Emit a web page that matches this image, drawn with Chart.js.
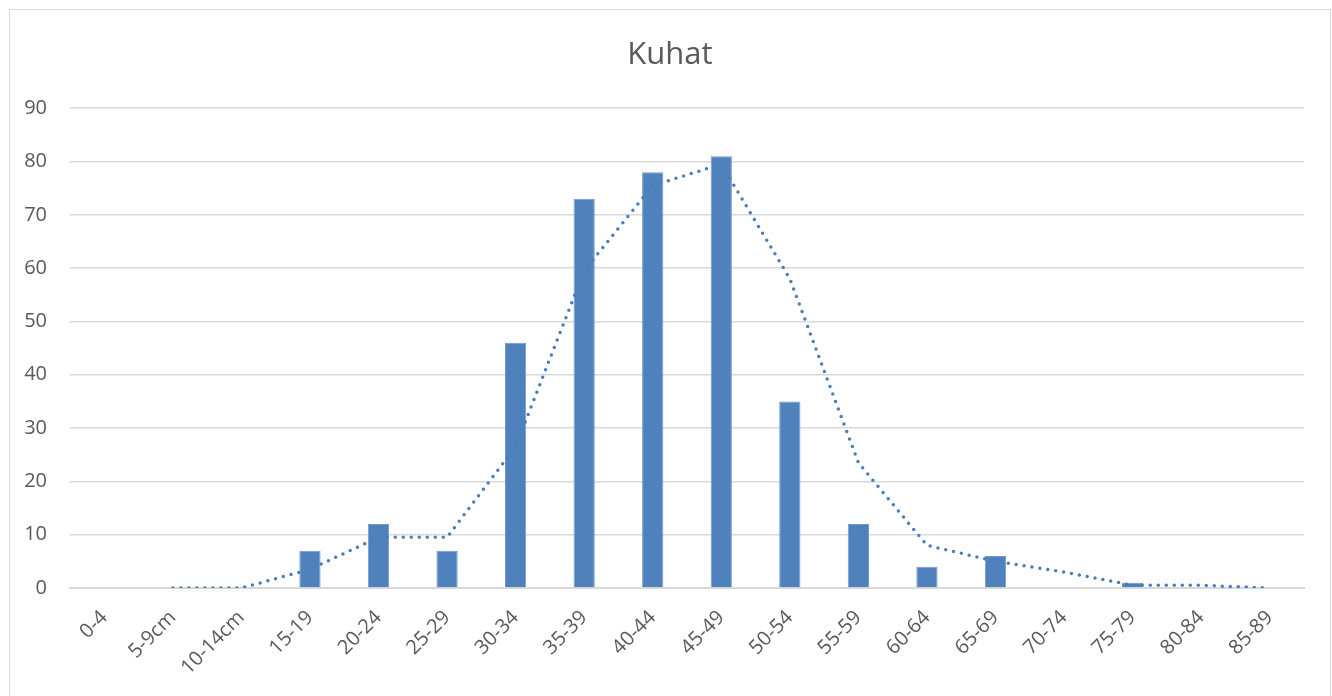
<!DOCTYPE html>
<html lang="et">
<head>
    <meta charset="UTF-8">
    <title>Kuhat</title>
    <style>
        body {
            margin: 0;
            background: #fff;
            overflow: hidden;
            font-family: "Open Sans", sans-serif;
        }
        .box {
            position: absolute;
            left: 9px;
            top: 9px;
            width: 1320px;
            height: 686px;
            border: 1px solid #d9d9d9;
            background: #fff;
        }
    </style>
</head>
<body>
    <div class="box">
        <canvas id="kuhatChart" width="1320" height="686"></canvas>
    </div>

    <script src="https://cdn.jsdelivr.net/npm/chart.js"></script>
    <script>
        // categories and values
        const categories = ['0-4', '5-9cm', '10-14cm', '15-19', '20-24', '25-29', '30-34', '35-39', '40-44',
            '45-49', '50-54', '55-59', '60-64', '65-69', '70-74', '75-79', '80-84', '85-89'];
        const counts = [0, 0, 0, 7, 12, 7, 46, 73, 78, 81, 35, 12, 4, 6, 0, 1, 0, 0];
        // dotted trend line (2-period moving average as drawn)
        const trend = [null, 0, 0, 3.5, 9.5, 9.5, 26.5, 59.5, 75.5, 79.5, 58, 23.5, 8, 5, 3, 0.5, 0.5, 0];
        const yTicks = [0, 10, 20, 30, 40, 50, 60, 70, 80, 90];

        const textColor = '#595959';
        const gridColor = '#d9d9d9';

        var ctx = document.getElementById('kuhatChart').getContext('2d');
        var chart = new Chart(ctx, {
            type: 'bar',
            data: {
                labels: categories,
                datasets: [{
                    type: 'line',
                    label: 'Trend',
                    data: trend,
                    borderColor: '#4a7ebb',
                    borderWidth: 3.5,
                    borderDash: [0, 8],
                    borderCapStyle: 'round',
                    pointRadius: 0,
                    tension: 0,
                    fill: false,
                    order: 0
                }, {
                    label: 'Kuhat',
                    data: counts,
                    backgroundColor: '#4f81bd',
                    borderColor: '#7399c9',
                    borderWidth: 1,
                    barPercentage: 0.31,
                    categoryPercentage: 1,
                    order: 1
                }]
            },
            options: {
                responsive: false,
                animation: false,
                layout: {
                    padding: 0
                },
                plugins: {
                    legend: { display: false },
                    tooltip: { enabled: false },
                    title: {
                        display: true,
                        text: 'Kuhat',
                        color: textColor,
                        font: { family: 'Open Sans', size: 31, weight: 'normal' },
                        padding: { top: 27, bottom: 34 }
                    }
                },
                scales: {
                    x: {
                        offset: true,
                        grid: { display: false, drawTicks: false },
                        border: { color: gridColor, width: 2 },
                        ticks: {
                            color: textColor,
                            font: { family: 'Open Sans', size: 20 },
                            minRotation: 45,
                            maxRotation: 45,
                            padding: 18,
                            autoSkip: false
                        },
                        afterFit: function (scale) { scale.height = 108; }
                    },
                    y: {
                        min: 0,
                        max: 90,
                        afterBuildTicks: function (scale) {
                            scale.ticks = yTicks.map(v => ({ value: v }));
                        },
                        grid: { color: gridColor, lineWidth: 1.5, drawTicks: false },
                        border: { display: false },
                        ticks: {
                            color: textColor,
                            font: { family: 'Open Sans', size: 20 },
                            padding: 23
                        },
                        afterFit: function (scale) { scale.width = 60; }
                    },
                    // empty spacer on the right so the title stays centred on the whole box
                    spacer: {
                        type: 'linear',
                        position: 'right',
                        grid: { display: false, drawTicks: false },
                        border: { display: false },
                        ticks: { display: false },
                        afterFit: function (scale) { scale.width = 26; }
                    }
                }
            }
        });
    </script>
</body>
</html>
